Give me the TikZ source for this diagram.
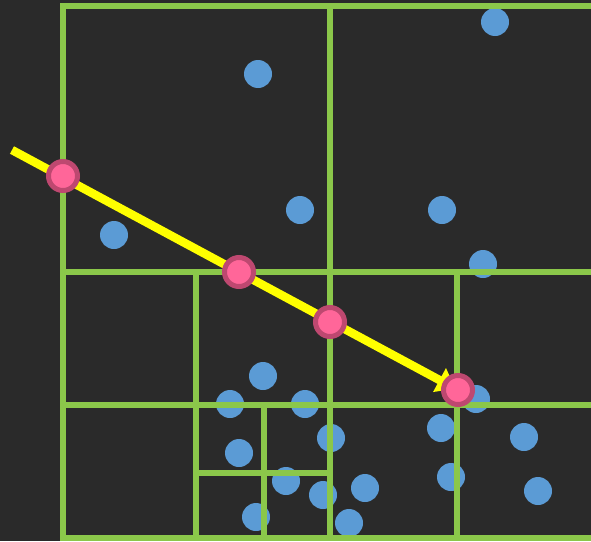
\documentclass[tikz,border=0pt]{standalone}
\usetikzlibrary{arrows.meta}
\definecolor{board}{RGB}{42,42,42}
\definecolor{grid}{RGB}{139,199,74}
\definecolor{dotblue}{RGB}{91,155,213}
\definecolor{ray}{RGB}{255,255,0}
\definecolor{hitfill}{RGB}{255,102,153}
\definecolor{hitedge}{RGB}{190,72,112}
\begin{document}
\begin{tikzpicture}[x=1pt,y=-1pt,
  gridline/.style={draw=grid,line width=6pt,line cap=rect},
  pt/.style={circle,fill=dotblue,inner sep=0pt,minimum size=28pt},
  hit/.style={circle,fill=hitfill,draw=hitedge,line width=5pt,inner sep=0pt,minimum size=29pt},
  rayline/.style={draw=ray,line width=8.5pt,-{Triangle[length=18pt,width=26pt]}}]
\fill[board] (0,0) rectangle (591,541);
\useasboundingbox (0,0) rectangle (591,541);
% points
\foreach \x/\y [count=\i] in {495/22,258/74,300/210,442/210,114/235,483/264,263/376,230/404,305/404,476/399,331/438,441/428,524/437,239/453,286/481,323/495,365/488,451/477,538/491,256/517,349/523}
  \node[pt] (d\i) at (\x,\y) {};
% quadtree
\draw[gridline] (63,6) -- (591,6);
\draw[gridline] (63,6) -- (63,538) -- (591,538);
\draw[gridline] (330,6) -- (330,538);
\draw[gridline] (63,272) -- (591,272);
\draw[gridline] (63,405) -- (591,405);
\draw[gridline] (196,272) -- (196,538);
\draw[gridline] (457,272) -- (457,538);
\draw[gridline] (264,405) -- (264,538);
\draw[gridline] (196,473) -- (330,473);
% ray
\coordinate (s) at (12,150);
\coordinate (e) at (458,390);
\draw[rayline,shorten >=3pt] (s) -- (e);
\node[hit] (h1) at (63,176) {};
\node[hit] (h2) at (239,272) {};
\node[hit] (h3) at (330,322) {};
\node[hit] (h4) at (e) {};
\end{tikzpicture}
\end{document}
